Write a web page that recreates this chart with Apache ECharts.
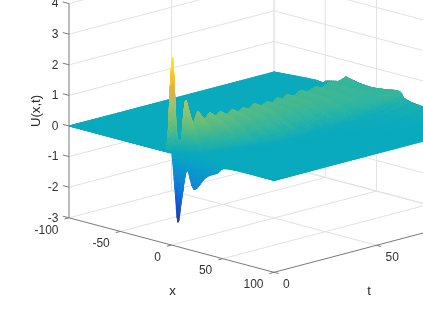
<!DOCTYPE html>
<html><head><meta charset="utf-8">
<style>html,body{margin:0;padding:0;background:#fff}#c{width:423px;height:317px}</style>
<script src="https://cdn.jsdelivr.net/npm/echarts@6/dist/echarts.min.js"></script>
</head><body><div id="c"></div>
<script>
// ---- axis ticks ----
const uTicks = [-3,-2,-1,0,1,2,3,4];
const xTicks = [-100,-50,0,50,100];
const tTicks = [0,50,100];
// ---- surface rows: time, wave front x, wave end x, lead width ----
const rowTime  = [0,1,2,3,4,5,6,7,8.5,10,11.5,13,14.5,16.5,18.3,20,23,26,29.5,33,36,39.4,42.5,45.8,49.5,53.4,56.3,59.2,62,65,69,72.7,77,81.4,85.5,89.6,94.5,99,100];
const rowFront = [-3,-3,-3,-2,2.7,2.35,2,1.7,1.2,.7,.2,-.3,-.8,-1.4,-2,-2.6,-3.6,-4.6,-5.7,-6.9,-7.9,-9,-10,-11.1,-12.3,-13.6,-14.6,-15.5,-16.5,-17.5,-18.8,-20,-21.4,-22.9,-24.2,-25.6,-27.2,-28.7,-30];
const rowEnd   = [55,55,55,30,14,14,14,20,22,23,24,25,27,28,29,30,32,34,36,38,39,40,40,40,40,40,40,40,40,39,39,38,38,37,37,36,35,34,34];
const rowLead  = [5,5,5,5,5,5,5,5,5,5,5,5,5,5,5,5,5,5,5,5,5,5,5,5,5,5,5,5,5,5,5,5,5,5,5,5,5,5,30];
// node positions between those limits
const leadFrac = [1,.8,.66,.4,.2];
const waveFrac = [0,.016,.03,.06,.11,.16,.22,.31,.43,.63,.83,1];
// U(x,t) at the nodes, one line per row
const surfaceU = [
[0,.02,.05,.08,.1, .12,.12,.1,-.02,-1.15,-2.2,-1.45,-.42,-1.0,-.5,-.25,-.02],
[0,.04,.15,.7,1.1, 1.3,1.1,.8,.15,-.4,-.7,-.6,-.15,-.35,-.2,-.13,0],
[0,.15,.55,1.9,2.6, 3.08,2.6,2.0,.8,.1,-.05,-.08,0,-.04,-.02,-.01,0],
[0,.03,.12,.4,.55, .6,.55,.45,.25,.08,.02,0,0,0,0,0,0],
[0,0,.02,.1,.3, .5,.5,.49,.46,.42,.36,.3,.2,.12,.03,0,0],
[0,0,.06,.5,1.0, 1.32,1.32,1.3,1.25,1.18,1.1,.98,.82,.62,.33,.1,0],
[0,.02,.08,.75,1.3, 1.63,1.62,1.58,1.55,1.46,1.38,1.25,1.1,.88,.55,.2,0],
[0,.01,.06,.55,1.0, 1.3,1.3,1.28,1.24,1.18,1.1,1.0,.82,.62,.3,.08,0],
[0,0,.04,.3,.6, .85,.85,.85,.84,.8,.75,.7,.6,.45,.2,.04,0],
[0,0,.03,.25,.5, .75,.75,.75,.74,.72,.7,.67,.6,.52,.3,.08,0],
[0,0,.05,.42,.72, .95,.95,.95,.94,.92,.88,.83,.76,.65,.42,.15,0],
[0,.02,.1,.6,.9, 1.12,1.12,1.1,1.07,1.03,.98,.92,.84,.7,.45,.2,0],
[0,.01,.07,.45,.75, .98,.98,.97,.95,.92,.87,.82,.75,.62,.38,.14,0],
[0,0,.05,.33,.58, .78,.78,.78,.77,.76,.73,.69,.63,.53,.33,.1,0],
[0,.01,.06,.4,.68, .86,.86,.86,.85,.83,.8,.76,.71,.62,.41,.15,0],
[0,.02,.1,.5,.78, .94,.94,.94,.93,.91,.89,.86,.81,.72,.5,.2,0],
[0,0,.05,.36,.6, .75,.75,.75,.74,.72,.7,.67,.62,.54,.34,.1,0],
[0,.02,.08,.45,.7, .85,.85,.85,.84,.83,.81,.78,.73,.64,.42,.15,0],
[0,0,.04,.32,.53, .68,.68,.68,.67,.66,.64,.61,.56,.47,.28,.08,0],
[0,.02,.07,.4,.62, .77,.77,.77,.76,.75,.74,.72,.68,.6,.4,.15,0],
[0,0,.04,.3,.48, .64,.64,.64,.63,.62,.61,.59,.54,.46,.28,.09,0],
[0,.02,.07,.37,.57, .7,.7,.7,.7,.69,.68,.67,.64,.57,.38,.14,0],
[0,0,.04,.28,.46, .6,.6,.6,.6,.59,.58,.56,.52,.44,.27,.09,0],
[0,.02,.07,.37,.57, .7,.7,.7,.69,.68,.67,.66,.63,.56,.38,.14,0],
[0,0,.04,.26,.43, .56,.56,.56,.56,.55,.54,.53,.5,.43,.26,.09,0],
[0,.02,.06,.32,.5, .61,.61,.61,.61,.6,.6,.59,.57,.52,.36,.14,0],
[0,0,.03,.24,.4, .52,.52,.52,.52,.52,.51,.51,.49,.43,.28,.1,0],
[0,.02,.06,.33,.51, .62,.62,.62,.62,.61,.6,.6,.58,.53,.38,.15,.01],
[0,0,.03,.23,.38, .5,.5,.5,.5,.5,.5,.49,.48,.43,.29,.11,0],
[0,.02,.06,.31,.49, .6,.6,.6,.6,.6,.59,.59,.57,.53,.4,.18,.02],
[0,0,.03,.22,.37, .48,.48,.48,.48,.48,.48,.48,.47,.44,.31,.13,.01],
[0,.02,.05,.29,.46, .57,.57,.57,.57,.57,.57,.56,.55,.52,.42,.22,.03],
[0,0,.03,.21,.35, .46,.46,.46,.46,.46,.46,.46,.46,.44,.35,.18,.02],
[0,.01,.05,.26,.42, .52,.52,.52,.52,.52,.51,.5,.5,.49,.42,.27,.05],
[0,0,.03,.18,.31, .42,.42,.42,.42,.42,.42,.42,.42,.42,.38,.25,.05],
[0,.01,.04,.24,.39, .49,.49,.49,.48,.47,.47,.46,.46,.45,.42,.33,.1],
[0,0,.03,.17,.3, .42,.42,.41,.4,.39,.39,.38,.38,.38,.4,.38,.13],
[0,.01,.04,.2,.36, .47,.47,.46,.45,.43,.41,.39,.37,.36,.4,.44,.18],
[.1,.01,.15,.22,.27, .45,.45,.44,.42,.4,.38,.36,.34,.34,.4,.45,.2]
];
// colour ramp (parula) against U
const rampU  = [-2.3,-1.6,-1,-.4,0,.3,.8,1.5,1.9,2.5,3.1];
const rampC  = [[53,42,135],[15,92,221],[20,129,214],[8,155,205],[10,170,190],[40,180,165],[100,190,125],[165,195,110],[230,175,65],[252,205,45],[249,251,14]];

// ---- view of the box: screen position of a point, on two full-page hidden value axes ----
const ORIGIN=[69,126], XV=[1.025,.2725], TV=[2.05,-.54], UV=30.6;
const project=(x,t,u)=>[ORIGIN[0]+(x+100)*XV[0]+t*TV[0], ORIGIN[1]+(x+100)*XV[1]+t*TV[1]-u*UV];

const mesh = rowTime.map((t,r)=>{
  const f=rowFront[r], e=rowEnd[r], p=rowLead[r];
  const xs=[-100, ...leadFrac.map(k=>f-k*p), ...waveFrac.map(k=>f+k*(e-f)), 100];
  const us=[0, ...surfaceU[r], 0];
  return xs.map((x,i)=>({x,t,u:us[i]}));
});
function colorOf(u){
  if(u<=rampU[0]) return rampC[0];
  for(let i=1;i<rampU.length;i++) if(u<=rampU[i]){
    const k=(u-rampU[i-1])/(rampU[i]-rampU[i-1]);
    return rampC[i].map((c,j)=>rampC[i-1][j]+(c-rampC[i-1][j])*k);
  }
  return rampC[rampC.length-1];
}
const rgb=c=>`rgb(${c.map(v=>Math.round(v)).join(',')})`;
const quads=[];
for(let r=rowTime.length-2;r>=0;r--) for(let c=0;c<mesh[r].length-1;c++) quads.push([r,c]);

const clampI=(i,n)=>Math.max(0,Math.min(n-1,i));
const cr=(p0,p1,p2,p3,s)=>.5*((2*p1)+(-p0+p2)*s+(2*p0-5*p1+4*p2-p3)*s*s+(-p0+3*p1-3*p2+p3)*s*s*s);
// smooth drawing of the mesh between its nodes
function surfacePoint(r,c,v,w){
  const val={};
  for(const k of ['x','t','u']){
    const rows=[];
    for(let a=-1;a<=2;a++){
      const row=mesh[clampI(r+a,mesh.length)];
      const n=row.length;
      rows.push(cr(row[clampI(c-1,n)][k],row[clampI(c,n)][k],row[clampI(c+1,n)][k],row[clampI(c+2,n)][k],w));
    }
    val[k]=cr(rows[0],rows[1],rows[2],rows[3],v);
  }
  return val;
}
function surfaceItem(params,api){
  const r=api.value(0), c=api.value(1);
  let lo=1e9,hi=-1e9;
  for(let a=-1;a<=2;a++){const row=mesh[clampI(r+a,mesh.length)];
    for(let b=-1;b<=2;b++){const u=row[clampI(c+b,row.length)].u;lo=Math.min(lo,u);hi=Math.max(hi,u);}}
  const flat=hi-lo<.01;
  const n=flat?1:5, m=flat?1:4;
  // v runs from this row (near) to the next row (far): paint far first
  const node=(i,j)=>{const q=surfacePoint(r,c,1-i/n,j/m);return {p:api.coord(project(q.x,q.t,q.u)),u:q.u};};
  const grid=[];
  for(let i=0;i<=n;i++){const g=[];for(let j=0;j<=m;j++)g.push(node(i,j));grid.push(g);}
  const children=[];
  for(let i=0;i<n;i++) for(let j=0;j<m;j++){
    const q=[grid[i][j],grid[i][j+1],grid[i+1][j+1],grid[i+1][j]];
    const col=rgb(colorOf((q[0].u+q[1].u+q[2].u+q[3].u)/4));
    children.push({type:'polygon',shape:{points:q.map(o=>o.p)},style:{fill:col,stroke:col,lineWidth:1}});
  }
  return {type:'group',children};
}

// grid lines on the walls and floor
const U_MIN=-3,U_MAX=4,X0=-100,X1=100,T0=0,T1=100;
const gridSegs=[];
uTicks.forEach(u=>{gridSegs.push([[X0,T0,u],[X0,T1,u]]);gridSegs.push([[X0,T1,u],[X1,T1,u]]);});
tTicks.slice(1).forEach(t=>gridSegs.push([[X0,t,U_MIN],[X0,t,U_MAX+2]]));
xTicks.slice(0,-1).forEach(x=>gridSegs.push([[x,T1,U_MIN],[x,T1,U_MAX+2]]));
xTicks.slice(1,-1).forEach(x=>gridSegs.push([[x,T0,U_MIN],[x,T1,U_MIN]]));
tTicks.slice(1).forEach(t=>gridSegs.push([[X0,t,U_MIN],[X1,t,U_MIN]]));

// axis lines and tick marks
const axisSegs=[[[X0,T0,U_MIN],[X0,T0,U_MAX]],[[X0,T0,U_MIN],[X1,T0,U_MIN]],[[X1,T0,U_MIN],[X1,T1,U_MIN]]];
uTicks.forEach(u=>axisSegs.push([[X0,T0,u],[X0-6,T0,u]]));
xTicks.forEach(x=>axisSegs.push([[x,T0,U_MIN],[x,T0-2.2,U_MIN]]));
tTicks.forEach(t=>axisSegs.push([[X1,t,U_MIN],[X1+4.5,t,U_MIN]]));

// text labels: anchored on the projected tick points
const labels=[];
uTicks.forEach(u=>{const p=project(X0,T0,u);labels.push({s:String(u),x:p[0]-10.5,y:p[1]+.5,a:'right'});});
xTicks.forEach(x=>{const p=project(x,T0,U_MIN);labels.push({s:String(x),x:p[0]-10.5,y:p[1]+12.5,a:'right'});});
tTicks.forEach(t=>{const p=project(X1,t,U_MIN);labels.push({s:String(t),x:p[0]+9,y:p[1]+12.5,a:'left'});});
const FONT='"Liberation Sans",Arial,Helvetica,sans-serif';
const titles=[{s:'x',x:172.5,y:291.5,rot:0},{s:'t',x:369,y:291.5,rot:0},{s:'U(x,t)',x:36.5,y:111,rot:Math.PI/2}];

const segItem=(color,width)=>segs=>(params,api)=>{
  const s=segs[api.value(0)], p=api.coord(project(...s[0])), q=api.coord(project(...s[1]));
  return {type:'line',shape:{x1:p[0],y1:p[1],x2:q[0],y2:q[1]},style:{stroke:color,lineWidth:width}};
};
const idx=a=>a.map((_,i)=>[i]);

const chart=echarts.init(document.getElementById('c'),null,{renderer:'canvas',width:423,height:317});
chart.setOption({
  animation:false,
  backgroundColor:'#fff',
  grid:{left:0,right:0,top:0,bottom:0},
  xAxis:{type:'value',min:0,max:423,show:false},
  yAxis:{type:'value',min:0,max:317,inverse:true,show:false},
  series:[
    {type:'custom',silent:true,clip:false,z:1,data:idx(gridSegs),encode:{x:-1,y:-1},renderItem:segItem('#e2e2e2',1)(gridSegs)},
    {type:'custom',silent:true,clip:false,z:2,data:idx(axisSegs),encode:{x:-1,y:-1},renderItem:segItem('#7a7a7a',1)(axisSegs)},
    {type:'custom',silent:true,clip:false,z:3,progressive:0,data:quads,encode:{x:-1,y:-1},renderItem:surfaceItem},
    {type:'custom',silent:true,clip:false,z:4,data:idx(labels),encode:{x:-1,y:-1},renderItem:(params,api)=>{
      const l=labels[api.value(0)],p=api.coord([l.x,l.y]);
      return {type:'text',style:{text:l.s,x:p[0],y:p[1],align:l.a,verticalAlign:'middle',font:'12px '+FONT,fill:'#333'}};
    }},
    {type:'custom',silent:true,clip:false,z:4,data:idx(titles),encode:{x:-1,y:-1},renderItem:(params,api)=>{
      const l=titles[api.value(0)],p=api.coord([l.x,l.y]);
      return {type:'text',x:p[0],y:p[1],rotation:l.rot,style:{text:l.s,x:0,y:0,align:'center',verticalAlign:'middle',font:'13.2px '+FONT,fill:'#262626'}};
    }}
  ]
});
</script></body></html>
